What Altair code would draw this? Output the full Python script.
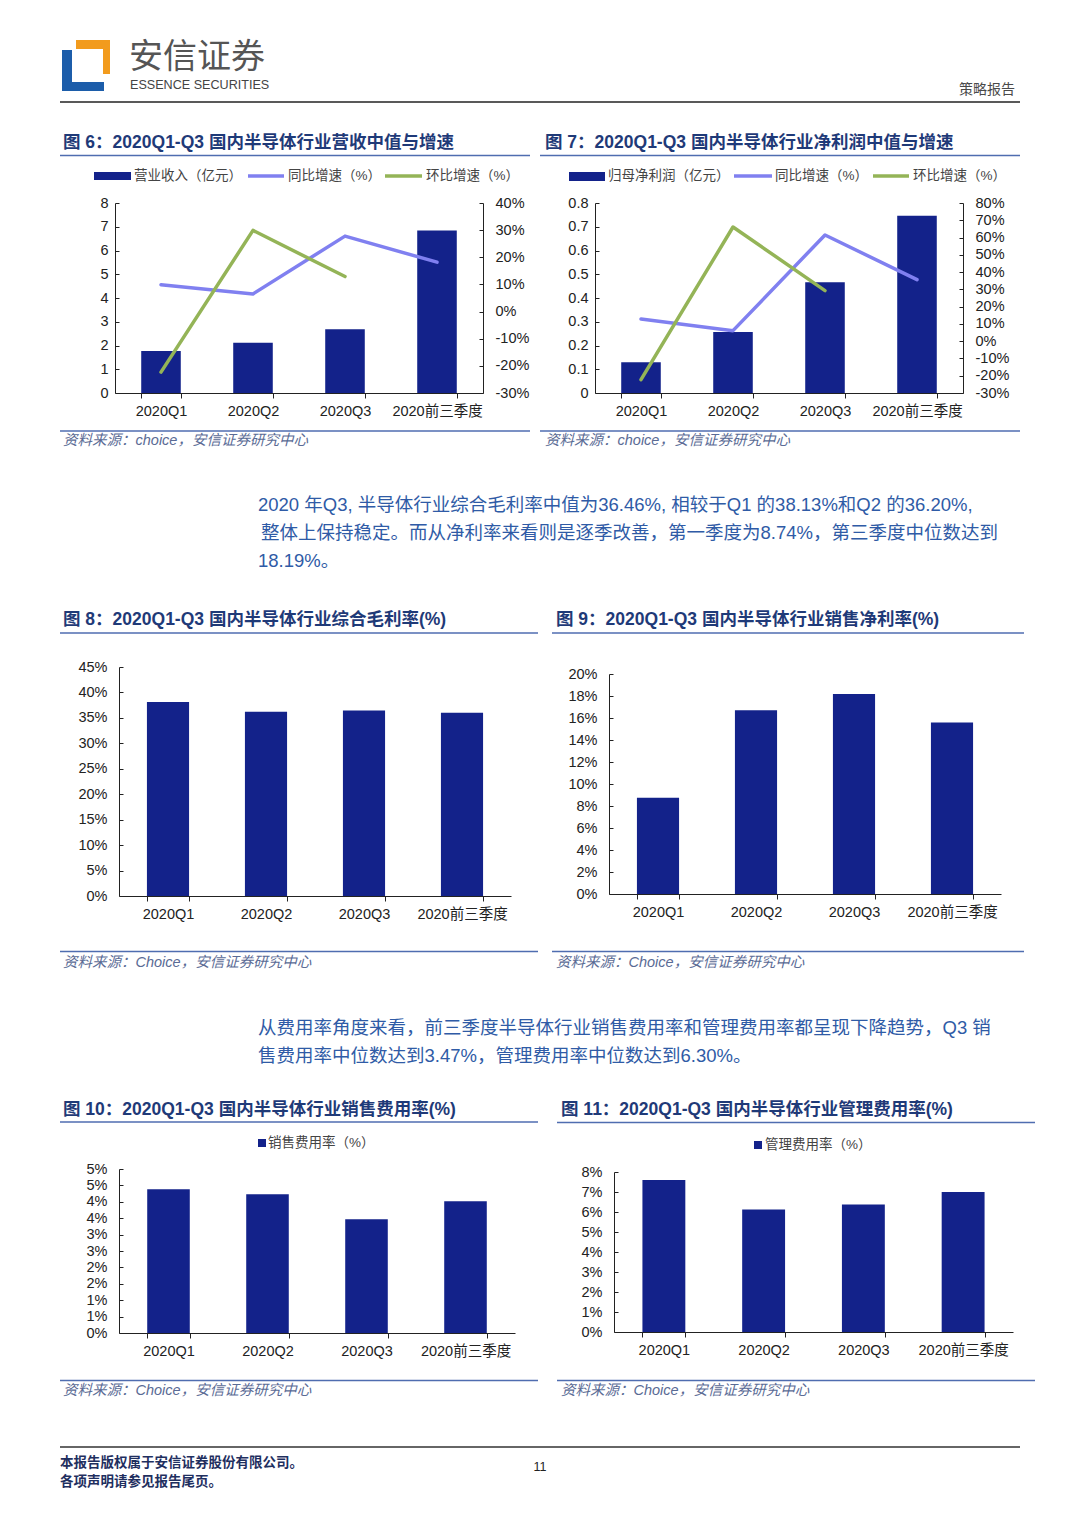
import altair as alt
import pandas as pd

W, H = 1064, 1511
M = 8

# ---------------- data ----------------
cats = ["2020Q1", "2020Q2", "2020Q3", "2020前三季度"]
revenue = [1.77, 2.12, 2.68, 6.84]
revenue_yoy = [9.9, 6.5, 27.8, 18.2]
revenue_qoq = [-22.3, 29.9, 12.9]
profit = [0.13, 0.257, 0.466, 0.746]
profit_yoy = [12.8, 6.1, 61.5, 35.6]
profit_qoq = [-22.3, 66.1, 29.3]
gross_margin = [38.13, 36.20, 36.46, 36.0]
net_margin = [8.74, 16.7, 18.19, 15.6]
selling_rate = [4.38, 4.23, 3.47, 4.02]
admin_rate = [7.60, 6.12, 6.38, 7.00]

# ---------------- style ----------------
NAVY = "#13228A"
YOY = "#8080F0"
QOQ = "#94B457"
TITLE_C = "#1F3A78"
LINE_C = "#4F6DB0"
SRC_C = "#5A6B95"
PARA_C = "#2F5BA6"
FONT = "Liberation Sans, Noto Sans CJK SC"
CJK = "Noto Sans CJK SC, Liberation Sans"

ONE = pd.DataFrame({"k": [0]})
layers = []


def px(v):
    return v - M


def text(s, x, y, size=13, color="#333333", weight="normal", align="left",
         style="normal", font=FONT, baseline="middle"):
    layers.append(
        alt.Chart(ONE)
        .mark_text(text=s, align=align, baseline=baseline, fontSize=size, font=font,
                   color=color, fontWeight=weight, fontStyle=style)
        .encode(x=alt.value(px(x)), y=alt.value(px(y)))
    )


def hline(x1, x2, y, color, width=1.5):
    layers.append(
        alt.Chart(ONE)
        .mark_rule(color=color, strokeWidth=width)
        .encode(x=alt.value(px(x1)), x2=alt.value(px(x2)), y=alt.value(px(y)))
    )


def box(x1, x2, y1, y2, color):
    layers.append(
        alt.Chart(ONE)
        .mark_rect(color=color)
        .encode(x=alt.value(px(x1)), x2=alt.value(px(x2)),
                y=alt.value(px(y1)), y2=alt.value(px(y2)))
    )


def legline(x1, x2, y, color):
    layers.append(
        alt.Chart(ONE)
        .mark_rule(color=color, strokeWidth=3.5)
        .encode(x=alt.value(px(x1)), x2=alt.value(px(x2)), y=alt.value(px(y)))
    )


AX = dict(title=None, grid=False, domainColor="#222222", domainWidth=1,
          tickColor="#222222", labelColor="#222222", labelFont=FONT, labelFontSize=14.5)


def bars(vals, left, right, top, bottom, ymax, ticks, label_expr, lpad=11):
    df = pd.DataFrame({"cat": cats, "v": vals})
    xs = alt.Scale(domain=cats, range=[px(left), px(right)],
                   paddingInner=0.57, paddingOuter=0.285)
    ys = alt.Scale(domain=[0, ymax], range=[px(bottom), px(top)], nice=False, zero=True)
    xa = alt.Axis(orient="bottom", offset=px(bottom) - H, labelAngle=0, tickBand="extent",
                  tickSize=5, labelPadding=6, **AX)
    ya = alt.Axis(orient="left", offset=-px(left), values=ticks, labelExpr=label_expr,
                  tickSize=alt.ExprRef(expr="-4"), labelPadding=lpad, **AX)
    layers.append(
        alt.Chart(df).mark_bar(color=NAVY)
        .encode(x=alt.X("cat:N", sort=cats, scale=xs, axis=xa),
                y=alt.Y("v:Q", scale=ys, axis=ya))
    )


def line(vals, color, left, right, top, bottom, dom, axis_ticks=None):
    df = pd.DataFrame({"cat": cats[:len(vals)], "v": vals})
    xs = alt.Scale(type="point", domain=cats, range=[px(left), px(right)], padding=0.5)
    ys = alt.Scale(domain=dom, range=[px(bottom), px(top)], nice=False, zero=False)
    if axis_ticks is not None:
        ya = alt.Axis(orient="right", offset=px(right) - W, values=axis_ticks,
                      labelExpr="datum.value + '%'", tickSize=alt.ExprRef(expr="-4"),
                      labelPadding=16, **AX)
        y = alt.Y("v:Q", scale=ys, axis=ya)
    else:
        y = alt.Y("v:Q", scale=ys, axis=None)
    layers.append(
        alt.Chart(df).mark_line(color=color, strokeWidth=3.5, strokeCap="round",
                                strokeJoin="round")
        .encode(x=alt.X("cat:N", sort=cats, scale=xs, axis=None), y=y)
    )


# ---------------- header ----------------
box(76, 110, 40, 49, "#F29B1D")
box(103, 110, 40, 74, "#F29B1D")
box(62, 72, 50, 91, "#1C5DAA")
box(62, 104, 82, 91, "#1C5DAA")
text("安信证券", 129, 58, size=34, color="#555555", font=CJK)
text("ESSENCE SECURITIES", 130, 85, size=12.6, color="#444444",
     font="Liberation Sans Narrow, Liberation Sans")
text("策略报告", 1015, 90, size=14, color="#4A4A4A", align="right", font=CJK)
hline(60, 1020, 102, "#222222", 1.5)

# ---------------- figure 6 ----------------
text("图 6：2020Q1-Q3 国内半导体行业营收中值与增速", 63, 143, size=17.5, color=TITLE_C, weight="bold")
hline(60, 530, 155.5, LINE_C, 1.5)
box(94, 131, 172, 180, NAVY)
text("营业收入（亿元）", 134, 176, size=13.5, color="#444444")
legline(248, 284, 176, YOY)
text("同比增速（%）", 288, 176, size=13.5, color="#444444")
legline(385, 422, 176, QOQ)
text("环比增速（%）", 426, 176, size=13.5, color="#444444")
bars(revenue, 115, 483, 203, 393, 8, list(range(0, 9)), "datum.value + ''", lpad=11)
line(revenue_yoy, YOY, 115, 483, 203, 393, [-30, 40], list(range(-30, 41, 10)))
line(revenue_qoq, QOQ, 115, 483, 203, 393, [-30, 40])
hline(60, 530, 431, LINE_C, 1.5)
text("资料来源：choice，安信证券研究中心", 63, 441, size=14.5, color=SRC_C, style="italic")

# ---------------- figure 7 ----------------
text("图 7：2020Q1-Q3 国内半导体行业净利润中值与增速", 545, 143, size=17.5, color=TITLE_C, weight="bold")
hline(540, 1020, 155.5, LINE_C, 1.5)
box(569, 605, 172, 181, NAVY)
text("归母净利润（亿元）", 608, 176, size=13.5, color="#444444")
legline(734, 772, 176, YOY)
text("同比增速（%）", 775, 176, size=13.5, color="#444444")
legline(873, 909, 176, QOQ)
text("环比增速（%）", 913, 176, size=13.5, color="#444444")
bars(profit, 595, 963, 203, 393, 0.8, [round(i * 0.1, 1) for i in range(9)],
     "datum.value == 0 ? '0' : format(datum.value, '.1f')", lpad=11)
line(profit_yoy, YOY, 595, 963, 203, 393, [-30, 80], list(range(-30, 81, 10)))
line(profit_qoq, QOQ, 595, 963, 203, 393, [-30, 80])
hline(540, 1020, 431, LINE_C, 1.5)
text("资料来源：choice，安信证券研究中心", 545, 441, size=14.5, color=SRC_C, style="italic")

# ---------------- paragraph 1 ----------------
text("2020 年Q3, 半导体行业综合毛利率中值为36.46%, 相较于Q1 的38.13%和Q2 的36.20%,",
     258, 505, size=18.5, color=PARA_C)
text("整体上保持稳定。而从净利率来看则是逐季改善，第一季度为8.74%，第三季度中位数达到",
     261, 533, size=18.5, color=PARA_C)
text("18.19%。", 258, 561, size=18.5, color=PARA_C)

# ---------------- figure 8 ----------------
text("图 8：2020Q1-Q3 国内半导体行业综合毛利率(%)", 63, 620, size=17.5, color=TITLE_C, weight="bold")
hline(60, 538, 633, LINE_C, 1.5)
bars(gross_margin, 119, 511, 667, 896, 45, list(range(0, 46, 5)), "datum.value + '%'", lpad=16)
hline(60, 538, 951.5, LINE_C, 1.5)
text("资料来源：Choice，安信证券研究中心", 63, 963, size=14.5, color=SRC_C, style="italic")

# ---------------- figure 9 ----------------
text("图 9：2020Q1-Q3 国内半导体行业销售净利率(%)", 556, 620, size=17.5, color=TITLE_C, weight="bold")
hline(552, 1024, 633, LINE_C, 1.5)
bars(net_margin, 609, 1001, 674, 894, 20, list(range(0, 21, 2)), "datum.value + '%'", lpad=16)
hline(552, 1024, 951.5, LINE_C, 1.5)
text("资料来源：Choice，安信证券研究中心", 556, 963, size=14.5, color=SRC_C, style="italic")

# ---------------- paragraph 2 ----------------
text("从费用率角度来看，前三季度半导体行业销售费用率和管理费用率都呈现下降趋势，Q3 销",
     258, 1028, size=18.5, color=PARA_C)
text("售费用率中位数达到3.47%，管理费用率中位数达到6.30%。", 258, 1056, size=18.5, color=PARA_C)

# ---------------- figure 10 ----------------
text("图 10：2020Q1-Q3 国内半导体行业销售费用率(%)", 63, 1110, size=17.5, color=TITLE_C, weight="bold")
hline(60, 538, 1122, LINE_C, 1.5)
box(258, 266, 1139, 1147, NAVY)
text("销售费用率（%）", 268, 1143, size=13.5, color="#444444")
bars(selling_rate, 119, 515, 1169, 1333, 5, [i * 0.5 for i in range(11)],
     "round(datum.value) + '%'", lpad=16)
hline(60, 538, 1380.5, LINE_C, 1.5)
text("资料来源：Choice，安信证券研究中心", 63, 1391, size=14.5, color=SRC_C, style="italic")

# ---------------- figure 11 ----------------
text("图 11：2020Q1-Q3 国内半导体行业管理费用率(%)", 561, 1110, size=17.5, color=TITLE_C, weight="bold")
hline(557, 1035, 1122.5, LINE_C, 1.5)
box(754, 762, 1141, 1149, NAVY)
text("管理费用率（%）", 765, 1145, size=13.5, color="#444444")
bars(admin_rate, 614, 1013, 1172, 1332, 8, list(range(0, 9)), "datum.value + '%'", lpad=16)
hline(557, 1035, 1380.5, LINE_C, 1.5)
text("资料来源：Choice，安信证券研究中心", 561, 1391, size=14.5, color=SRC_C, style="italic")

# ---------------- footer ----------------
hline(60, 1020, 1447, "#333333", 1.5)
text("本报告版权属于安信证券股份有限公司。", 60, 1463, size=13.5, color="#1F2F5F", weight="bold", font=CJK)
text("各项声明请参见报告尾页。", 60, 1482, size=13.5, color="#1F2F5F", weight="bold", font=CJK)
text("11", 540, 1467, size=12.5, color="#222222", align="center")

chart = (
    alt.layer(*layers)
    .resolve_scale(x="independent", y="independent")
    .properties(width=W, height=H, autosize=alt.AutoSizeParams(type="none"),
                padding=0, background="white")
    .configure_view(strokeWidth=0)
)

chart.save("out.html", embed_options={"renderer": "svg", "actions": False})
